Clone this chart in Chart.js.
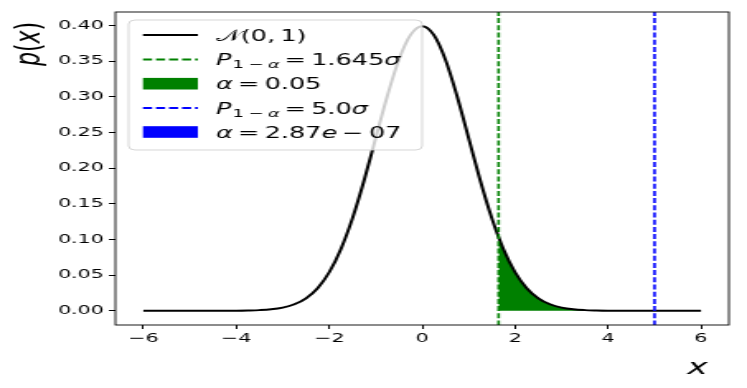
<!DOCTYPE html>
<html><head><meta charset="utf-8">
<script src="https://cdn.jsdelivr.net/npm/chart.js@4.4.0/dist/chart.umd.min.js"></script>
<style>html,body{margin:0;padding:0;background:#fff;overflow:hidden}</style>
</head><body>
<canvas id="c" width="453" height="388" style="display:block;width:747px;height:388px"></canvas>
<script>
// ---- data ----
const curveX = [-6,-5.75,-5.5,-5.25,-5,-4.75,-4.5,-4.25,-4,-3.75,-3.5,-3.25,-3,-2.75,-2.5,-2.25,-2,-1.75,-1.5,-1.25,-1,-0.75,-0.5,-0.25,0,0.25,0.5,0.75,1,1.25,1.5,1.75,2,2.25,2.5,2.75,3,3.25,3.5,3.75,4,4.25,4.5,4.75,5,5.25,5.5,5.75,6];
const curveY = [0,0,0,0,0,0,0,0,0.0001,0.0004,0.0009,0.0020,0.0044,0.0091,0.0175,0.0317,0.0540,0.0863,0.1295,0.1826,0.2420,0.3011,0.3521,0.3867,0.3989,0.3867,0.3521,0.3011,0.2420,0.1826,0.1295,0.0863,0.0540,0.0317,0.0175,0.0091,0.0044,0.0020,0.0009,0.0004,0.0001,0,0,0,0,0,0,0,0];
const tailX = [1.645,1.75,2,2.25,2.5,2.75,3,3.25,3.5,3.75,4,4.5,5,5.5,6];
const tailY = [0.1031,0.0863,0.0540,0.0317,0.0175,0.0091,0.0044,0.0020,0.0009,0.0004,0.0001,0,0,0,0];
const farX = [5,5.5,6];
const farY = [0,0,0];
const cutLow = 1.645;
const cutHigh = 5.0;
const xTicks = [-6,-4,-2,0,2,4,6];
const xTickLabels = ['\u22126','\u22124','\u22122','0','2','4','6'];
const yTicks = [0,0.05,0.10,0.15,0.20,0.25,0.30,0.35,0.40];
const yTickLabels = ['0.00','0.05','0.10','0.15','0.20','0.25','0.30','0.35','0.40'];
const legendLabels = ['\u{1D4A9}(0, 1)','P_{1 \u2212 \u03B1} = 1.645\u03C3','\u03B1 = 0.05','P_{1 \u2212 \u03B1} = 5.0\u03C3','\u03B1 = 2.87e \u2212 07'];
const xTitle = 'x';
const yTitle = 'p(x)';

// ---- styling ----
const X_MIN = -6.6, X_MAX = 6.6, Y_MIN = -0.01995, Y_MAX = 0.41885;
const GREEN = '#008000', BLUE = '#0000ff';
const FONT = 'DejaVu Sans';
const pts = (xs, ys) => xs.map((x, i) => ({x, y: ys[i]}));

function mathSegs(str) {
  const segs = [];
  let i = 0;
  while (i < str.length) {
    if (str[i] === '_' && str[i + 1] === '{') {
      const j = str.indexOf('}', i);
      for (const ch of str.slice(i + 2, j)) segs.push({ch, sub: true});
      i = j + 1; continue;
    }
    const ch = String.fromCodePoint(str.codePointAt(i));
    segs.push({ch, sub: false});
    i += ch.length;
  }
  return segs;
}
function segFont(s, size) {
  const sz = s.sub ? size * 0.7 : size;
  const it = /[A-Za-z\u03B1-\u03C9]/.test(s.ch);
  return (it ? 'italic ' : '') + sz + 'px "' + FONT + '"';
}
function segWidth(ctx, s, size) {
  if (s.ch === ' ') return size * (s.sub ? 0.17 : 0.2);
  ctx.font = segFont(s, size);
  return ctx.measureText(s.ch).width;
}
function drawMath(ctx, str, x, y, size, align) {
  const segs = mathSegs(str);
  let w = 0;
  for (const s of segs) w += segWidth(ctx, s, size);
  let cx = align === 'center' ? x - w / 2 : x;
  ctx.textBaseline = 'alphabetic';
  ctx.textAlign = 'left';
  let prevSub = false;
  for (const s of segs) {
    if (s.sub && !prevSub) cx += size * 0.05;
    prevSub = s.sub;
    const sw = segWidth(ctx, s, size);
    if (s.ch !== ' ') {
      ctx.font = segFont(s, size);
      ctx.fillText(s.ch, cx, y + (s.sub ? size * 0.22 : 0));
    }
    cx += sw;
  }
}

const decor = {
  id: 'decor',
  afterDatasetsDraw(chart) {
    const {ctx, chartArea: a} = chart;
    ctx.save();
    ctx.strokeStyle = '#000';
    ctx.lineWidth = 0.9;
    ctx.strokeRect(a.left, a.top, a.right - a.left, a.bottom - a.top);
    ctx.restore();
  },
  afterDraw(chart) {
    const {ctx} = chart;
    ctx.save();
    const bx = 78, by = 20, bw = 178, bh = 130, r = 4;
    ctx.beginPath();
    ctx.roundRect(bx, by, bw, bh, r);
    ctx.fillStyle = 'rgba(255,255,255,0.8)';
    ctx.fill();
    ctx.strokeStyle = 'rgba(204,204,204,0.8)';
    ctx.lineWidth = 1;
    ctx.stroke();
    const rows = [35, 59.5, 83.7, 108, 132];
    const hx0 = 86.7, hx1 = 120, tx = 131;
    const kinds = [
      {type: 'line', color: '#000', dash: []},
      {type: 'line', color: GREEN, dash: [5.5, 2.4]},
      {type: 'patch', color: GREEN},
      {type: 'line', color: BLUE, dash: [5.5, 2.4]},
      {type: 'patch', color: BLUE}
    ];
    kinds.forEach((k, i) => {
      const yc = rows[i];
      if (k.type === 'line') {
        ctx.beginPath();
        ctx.setLineDash(k.dash);
        ctx.strokeStyle = k.color;
        ctx.lineWidth = 1.8;
        ctx.moveTo(hx0, yc); ctx.lineTo(hx1, yc);
        ctx.stroke();
        ctx.setLineDash([]);
      } else {
        ctx.fillStyle = k.color;
        ctx.fillRect(hx0, yc - 5.8, hx1 - hx0, 11.6);
      }
      ctx.fillStyle = '#000';
      drawMath(ctx, legendLabels[i], tx, yc + 5.5, 15.5, 'left');
    });
    ctx.fillStyle = '#000';
    drawMath(ctx, xTitle, 423, 374, 21, 'center');
    ctx.translate(24, 44);
    ctx.rotate(-Math.PI / 2);
    drawMath(ctx, yTitle, 0, 0, 22, 'center');
    ctx.restore();
  }
};

const tickFont = {family: FONT, size: 12.5};
const chart = new Chart(document.getElementById('c'), {
  type: 'line',
  data: {
    datasets: [
      {label: 'curve', data: pts(curveX, curveY), borderColor: '#000', borderWidth: 2, pointRadius: 0, cubicInterpolationMode: 'monotone', fill: false, order: 3},
      {label: 'lowLine', data: [{x: cutLow, y: Y_MIN - 1}, {x: cutLow, y: Y_MAX + 1}], borderColor: GREEN, borderWidth: 1.6, borderDash: [5, 2.2], pointRadius: 0, fill: false, order: 2},
      {label: 'lowArea', data: pts(tailX, tailY), borderWidth: 0, borderColor: 'rgba(0,0,0,0)', backgroundColor: GREEN, pointRadius: 0, cubicInterpolationMode: 'monotone', fill: 'origin', order: 10},
      {label: 'highLine', data: [{x: cutHigh, y: Y_MIN - 1}, {x: cutHigh, y: Y_MAX + 1}], borderColor: BLUE, borderWidth: 1.6, borderDash: [5, 2.2], pointRadius: 0, fill: false, order: 1},
      {label: 'highArea', data: pts(farX, farY), borderWidth: 0, borderColor: 'rgba(0,0,0,0)', backgroundColor: BLUE, pointRadius: 0, fill: 'origin', order: 9}
    ]
  },
  options: {
    responsive: false,
    animation: false,
    devicePixelRatio: 1,
    layout: {padding: {left: 0, right: 11, top: 12, bottom: 0}},
    plugins: {legend: {display: false}, tooltip: {enabled: false}},
    scales: {
      x: {
        type: 'linear', min: X_MIN, max: X_MAX,
        afterBuildTicks: s => { s.ticks = xTicks.map(v => ({value: v})); },
        afterFit: s => { s.height = 63; },
        ticks: {callback: (v, i) => xTickLabels[i], font: tickFont, color: '#000', padding: 2, maxRotation: 0, autoSkip: false},
        grid: {display: true, drawOnChartArea: false, drawTicks: true, tickLength: 4, tickColor: '#000', color: '#000', lineWidth: 1},
        border: {display: false}
      },
      y: {
        type: 'linear', min: Y_MIN, max: Y_MAX,
        afterBuildTicks: s => { s.ticks = yTicks.map(v => ({value: v})); },
        afterFit: s => { s.width = 70; },
        ticks: {callback: (v, i) => yTickLabels[i], font: tickFont, color: '#000', padding: 3, autoSkip: false},
        grid: {display: true, drawOnChartArea: false, drawTicks: true, tickLength: 4, tickColor: '#000', color: '#000', lineWidth: 1},
        border: {display: false}
      }
    }
  },
  plugins: [decor]
});
const cv = document.getElementById('c');
cv.style.width = '747px';
cv.style.height = '388px';
</script>
</body></html>
